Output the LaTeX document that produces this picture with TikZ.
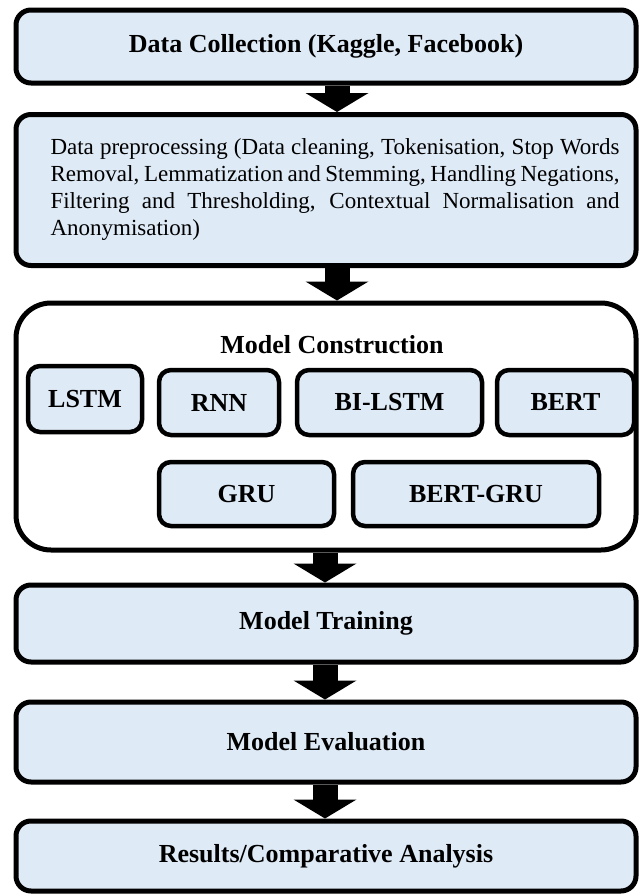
\documentclass[tikz,border=0pt]{standalone}
\usepackage{fontspec}
\setmainfont{Liberation Serif}
\usetikzlibrary{arrows.meta}
\definecolor{boxblue}{HTML}{DEEAF6}
\tikzset{
  stage/.style={draw, line width=5pt, rounded corners=15pt, fill=boxblue,
    minimum width=620pt, inner sep=0pt, font=\fontsize{26}{30}\selectfont\bfseries},
  model/.style={draw, line width=4.5pt, rounded corners=12pt, fill=boxblue,
    inner sep=0pt, font=\fontsize{26}{30}\selectfont\bfseries},
  flow/.style={line width=25pt, -{Triangle[width=63pt,length=19pt,line width=0pt]}}
}
\begin{document}
\begin{tikzpicture}[x=1pt,y=-1pt]
			\useasboundingbox (0,0) rectangle (638,894);
			\coordinate (upper) at (337,0);
			\coordinate (lower) at (325,0);
			%Stage 1
			\node[stage, minimum height=73pt] (collect) at (326,46.5) {Data Collection (Kaggle, Facebook)};
			%Stage 2
			\node[stage, minimum height=151pt, font=\fontsize{23}{27}\selectfont] (prep) at (326,190)
			{\hspace*{18pt}\parbox{569pt}{Data preprocessing (Data cleaning, Tokenisation, Stop Words Removal, Lemmatization and Stemming, Handling Negations, Filtering and Thresholding, Contextual Normalisation and Anonymisation)}};
			%Stage 3
			\node[draw, line width=5pt, rounded corners=35pt, minimum width=620pt, minimum height=247pt] (construct) at (326,426.5) {};
			\node[font=\fontsize{26}{30}\selectfont\bfseries] (constructtitle) at (332,345) {Model Construction};
			\node[model, minimum width=114pt, minimum height=66pt] (lstm) at (85,399) {LSTM};
			\node[model, minimum width=120pt, minimum height=65pt] (rnn) at (219,402.5) {RNN};
			\node[model, minimum width=185pt, minimum height=65pt] (bilstm) at (389.5,402.5) {BI-LSTM};
			\node[model, minimum width=137pt, minimum height=65pt] (bert) at (565.5,402.5) {BERT};
			\node[model, minimum width=175pt, minimum height=64pt] (gru) at (246.5,494) {GRU};
			\node[model, minimum width=246pt, minimum height=64pt] (bertgru) at (476,494) {BERT-GRU};
			%Stages 4-6
			\node[stage, minimum height=77pt] (train) at (326,623.5) {Model Training};
			\node[stage, minimum height=80pt] (evaluate) at (326,742) {Model Evaluation};
			\node[stage, minimum height=70pt] (results) at (326,856) {Results/Comparative Analysis};
			%Arrows
			\draw[flow] (collect.south -| upper) -- (prep.north -| upper);
			\draw[flow] (prep.south -| upper) -- (construct.north -| upper);
			\draw[flow] (construct.south -| lower) -- (train.north -| lower);
			\draw[flow] (train.south -| lower) -- (evaluate.north -| lower);
			\draw[flow] (evaluate.south -| lower) -- (results.north -| lower);
\end{tikzpicture}
\end{document}
